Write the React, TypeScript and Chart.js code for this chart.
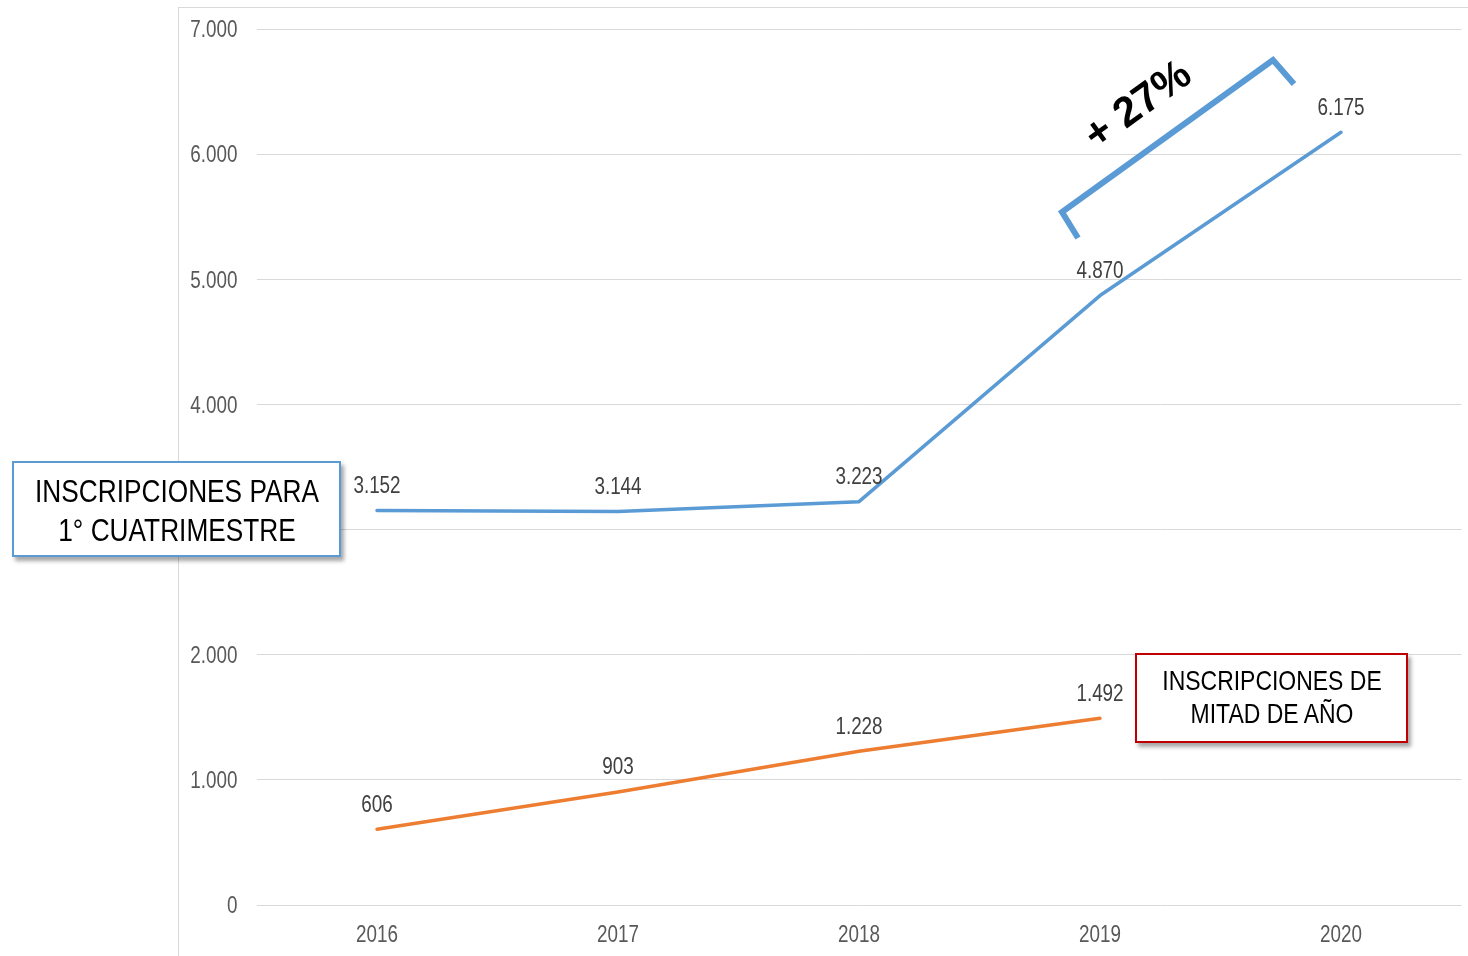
import React, { useEffect, useRef } from "react";
import { Chart, registerables } from "chart.js";

Chart.register(...registerables);

const categories = ["2016", "2017", "2018", "2019", "2020"];
const primerCuatrimestre = [3152, 3144, 3223, 4870, 6175];
const mitadDeAno = [606, 903, 1228, 1492, null];
const yMin = 0;
const yMax = 7000;
const yStep = 1000;

const FONT = "'Liberation Sans', Arial, sans-serif";
const NARROW = 0.82;

const fmt = (v: number) => String(Math.round(v)).replace(/\B(?=(\d{3})+(?!\d))/g, ".");

function narrowText(ctx: CanvasRenderingContext2D, text: string, x: number, y: number, align: "center" | "right") {
  ctx.save();
  ctx.translate(x, y);
  ctx.scale(NARROW, 1);
  ctx.textAlign = align;
  ctx.fillText(text, 0, 0);
  ctx.restore();
}

const customLabels = {
  id: "customLabels",
  afterDatasetsDraw(chart: any) {
    const ctx = chart.ctx;
    ctx.save();
    ctx.font = `23px ${FONT}`;
    ctx.textBaseline = "middle";
    // data labels
    ctx.fillStyle = "#404040";
    chart.data.datasets.forEach((ds: any, i: number) => {
      const meta = chart.getDatasetMeta(i);
      meta.data.forEach((pt: any, j: number) => {
        const v = ds.data[j];
        if (v === null || v === undefined) return;
        narrowText(ctx, fmt(v), pt.x, pt.y - 24, "center");
      });
    });
    // axis tick labels
    ctx.fillStyle = "#595959";
    const ys = chart.scales.y;
    ys.ticks.forEach((t: any, i: number) => {
      narrowText(ctx, fmt(t.value), chart.chartArea.left - 19, ys.getPixelForTick(i) + 2, "right");
    });
    const xs = chart.scales.x;
    xs.ticks.forEach((t: any, i: number) => {
      narrowText(ctx, String(chart.data.labels[i]), xs.getPixelForTick(i), chart.chartArea.bottom + 31, "center");
    });
    ctx.restore();
  },
};

export default function App() {
  const ref = useRef<HTMLCanvasElement>(null);
  useEffect(() => {
    if (!ref.current) return;
    const chart = new Chart(ref.current, {
      type: "line",
      data: {
        labels: categories,
        datasets: [
          {
            label: "INSCRIPCIONES PARA 1° CUATRIMESTRE",
            data: primerCuatrimestre,
            borderColor: "#5B9BD5",
            borderWidth: 3.5,
            pointRadius: 0,
            borderCapStyle: "round",
            borderJoinStyle: "round",
            tension: 0,
          },
          {
            label: "INSCRIPCIONES DE MITAD DE AÑO",
            data: mitadDeAno,
            borderColor: "#ED7D31",
            borderWidth: 3.5,
            pointRadius: 0,
            borderCapStyle: "round",
            borderJoinStyle: "round",
            tension: 0,
            spanGaps: false,
          },
        ],
      },
      options: {
        animation: false,
        responsive: false,
        maintainAspectRatio: false,
        layout: { padding: { left: 178, right: 6.5, top: 29, bottom: 0 } },
        plugins: { legend: { display: false }, tooltip: { enabled: false } },
        scales: {
          x: {
            offset: true,
            grid: { display: false, drawTicks: false },
            border: { display: false },
            ticks: { display: false },
            afterFit: (s: any) => { s.height = 51; },
          },
          y: {
            min: yMin,
            max: yMax,
            grid: { color: "#d9d9d9", lineWidth: 1, drawTicks: false },
            border: { display: false },
            ticks: { display: false, stepSize: yStep },
            afterFit: (s: any) => { s.width = 78.5; },
          },
        },
      },
      plugins: [customLabels],
    } as any);
    return () => chart.destroy();
  }, []);

  const narrowLine = (text: string, top: number, size: number) => (
    <div
      style={{
        position: "absolute",
        left: "50%",
        top,
        transform: `translateX(-50%) scaleX(${NARROW})`,
        whiteSpace: "nowrap",
        fontSize: size,
        lineHeight: 1,
      }}
    >
      {text}
    </div>
  );

  return (
    <div style={{ position: "fixed", left: 0, top: 0, width: 1468, height: 956, background: "#fff", overflow: "hidden" }}>
      <div style={{ position: "absolute", left: 178, top: 7, width: 1290, height: 949, borderLeft: "1px solid #d9d9d9", borderTop: "1px solid #d9d9d9" }} />
      <canvas ref={ref} width={1468} height={956} style={{ position: "absolute", left: 0, top: 0 }} />
      <svg width={1468} height={956} style={{ position: "absolute", left: 0, top: 0, pointerEvents: "none" }}>
        <polyline points="1078,238 1062,212 1273,60 1294,84" fill="none" stroke="#5B9BD5" strokeWidth={6} strokeLinejoin="miter" />
      </svg>
      <div
        style={{
          position: "absolute",
          left: 1137,
          top: 104,
          transform: "translate(-50%, -50%) rotate(-35.8deg)",
          fontFamily: FONT,
          fontWeight: "bold",
          fontSize: 42,
          color: "#000",
          whiteSpace: "nowrap",
          lineHeight: 1,
        }}
      >
        + 27%
      </div>
      <div
        style={{
          position: "absolute",
          left: 12,
          top: 461,
          width: 329,
          height: 96,
          boxSizing: "border-box",
          border: "2px solid #5B9BD5",
          background: "#fff",
          boxShadow: "3px 4px 4px rgba(0,0,0,0.35)",
          fontFamily: FONT,
          color: "#000",
        }}
      >
        {narrowLine("INSCRIPCIONES PARA", 12, 32)}
        {narrowLine("1° CUATRIMESTRE", 51, 32)}
      </div>
      <div
        style={{
          position: "absolute",
          left: 1135,
          top: 653,
          width: 273,
          height: 90,
          boxSizing: "border-box",
          border: "2px solid #C00000",
          background: "#fff",
          boxShadow: "3px 4px 4px rgba(0,0,0,0.35)",
          fontFamily: FONT,
          color: "#000",
        }}
      >
        {narrowLine("INSCRIPCIONES DE", 12, 28)}
        {narrowLine("MITAD DE AÑO", 45, 28)}
      </div>
    </div>
  );
}
